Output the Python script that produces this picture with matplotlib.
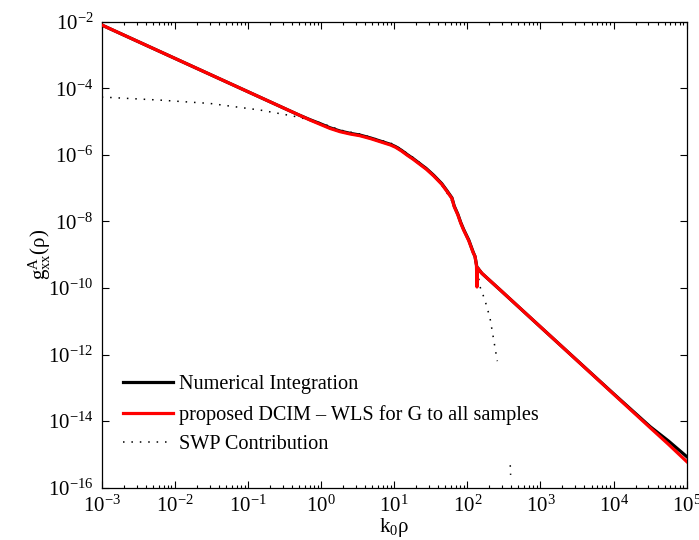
import numpy as np
import matplotlib
matplotlib.use("Agg")
import matplotlib.pyplot as plt
from matplotlib.ticker import FixedLocator, LogLocator, NullLocator, NullFormatter

# ---- data (log10 values) ----
num_logx = [-3.0, -0.30, -0.15, -0.01, 0.12, 0.26, 0.40, 0.53, 0.68, 0.85, 0.95, 1.02, 1.10,
            1.18, 1.26, 1.35, 1.44, 1.54, 1.65, 1.72, 1.79, 1.82, 1.87, 1.91, 1.95, 2.02, 2.08,
            2.105, 2.125, 2.135, 2.145, 2.16, 2.20, 2.45, 3.0, 4.0, 4.5, 4.75, 5.0]
num_logy = [-2.09, -4.80, -4.94, -5.06, -5.18, -5.28, -5.35, -5.40, -5.49, -5.61, -5.68, -5.75, -5.86,
            -5.99, -6.11, -6.26, -6.41, -6.61, -6.86, -7.07, -7.29, -7.53, -7.78, -8.03, -8.24, -8.56, -8.92,
            -9.05, -9.30, -9.50, -9.40, -9.45, -9.56, -10.06, -11.17, -13.18, -14.17, -14.60, -15.07]

dcim_logx = [-3.0, -0.30, -0.15, -0.01, 0.12, 0.26, 0.40, 0.53, 0.68, 0.85, 0.95, 1.02, 1.10,
             1.18, 1.26, 1.35, 1.44, 1.54, 1.65, 1.72, 1.79, 1.82, 1.87, 1.91, 1.95, 2.02, 2.08,
             2.105, 2.125, 2.132, 2.135, 2.14, 2.16, 2.20, 2.45, 3.0, 4.0, 4.5, 4.75, 5.0]
dcim_logy = [-2.09, -4.80, -4.95, -5.08, -5.20, -5.30, -5.37, -5.42, -5.51, -5.63, -5.70, -5.77, -5.88,
             -6.01, -6.13, -6.28, -6.43, -6.63, -6.88, -7.09, -7.31, -7.55, -7.80, -8.05, -8.26, -8.58, -8.94,
             -9.05, -9.32, -9.97, -9.60, -9.40, -9.45, -9.56, -10.06, -11.17, -13.19, -14.20, -14.70, -15.22]

swp_logx = [-3.0, -2.89, -2.20, -1.52, -0.83, -0.38, -0.15, 0.0, 0.26, 0.53, 0.85, 1.0,
            1.26, 1.44, 1.63, 1.77, 1.86, 1.95, 2.02, 2.08, 2.13, 2.175, 2.24, 2.31, 2.41,
            np.nan, 2.587, 2.592]
swp_logy = [-4.26, -4.27, -4.35, -4.45, -4.65, -4.83, -4.95, -5.04, -5.25, -5.37, -5.58, -5.68,
            -6.08, -6.39, -6.84, -7.30, -7.76, -8.22, -8.54, -8.92, -9.35, -9.97, -10.36, -10.9, -12.2,
            np.nan, -15.33, -15.62]

labels = ["Numerical Integration", "proposed DCIM \u2013 WLS for G to all samples", "SWP Contribution"]
xlabel = r"$\mathregular{k_0\rho}$"
ylabel = r"$\mathregular{g^{A}_{xx}(\rho)}$"

# ---- style ----
plt.rcParams["font.family"] = ["Liberation Serif", "DejaVu Serif"]
plt.rcParams["mathtext.fontset"] = "custom"
plt.rcParams["mathtext.rm"] = "Liberation Serif"
plt.rcParams["mathtext.it"] = "Liberation Serif:italic"
plt.rcParams["axes.unicode_minus"] = True

fig = plt.figure(figsize=(6.99, 5.40), dpi=100)
ax = fig.add_axes([0.1455, 0.0972, 0.8369, 0.8621])

ax.plot(10 ** np.array(swp_logx), 10 ** np.array(swp_logy), color="black", lw=1.1,
        linestyle=(0, (1.0, 4.5)), label=labels[2], zorder=2)
ax.plot(10 ** np.array(num_logx), 10 ** np.array(num_logy), color="black", lw=2.3,
        label=labels[0], zorder=3)
ax.plot(10 ** np.array(dcim_logx), 10 ** np.array(dcim_logy), color="#ff0000", lw=2.3,
        label=labels[1], zorder=4)

ax.set_xscale("log")
ax.set_yscale("log")
ax.set_xlim(1e-3, 1e5)
ax.set_ylim(1e-16, 1e-2)

ax.yaxis.set_major_locator(FixedLocator(10.0 ** np.arange(-16, -1, 2)))
ax.yaxis.set_minor_locator(NullLocator())
ax.xaxis.set_major_locator(FixedLocator(10.0 ** np.arange(-3, 6)))
ax.xaxis.set_minor_locator(LogLocator(base=10, subs=np.arange(2, 10), numticks=50))
ax.xaxis.set_minor_formatter(NullFormatter())

ax.tick_params(which="both", direction="in", top=True, right=True, labelsize=15, width=0.8)
ax.tick_params(which="major", length=5)
ax.tick_params(which="minor", length=2.5)
ax.tick_params(axis="x", pad=6)
ax.tick_params(axis="y", pad=6)
for s in ax.spines.values():
    s.set_linewidth(0.9)

ax.set_xlabel(xlabel, fontsize=15, labelpad=-1)
ax.set_ylabel(ylabel, fontsize=15, labelpad=-4)

h, l = ax.get_legend_handles_labels()
order = [1, 2, 0]
leg = ax.legend([h[i] for i in order], [l[i] for i in order], loc="lower left",
                bbox_to_anchor=(0.005, 0.032), frameon=False, fontsize=14.6,
                handlelength=2.45, handletextpad=0.3, labelspacing=0.52)

fig.savefig("out.png", dpi=100)
